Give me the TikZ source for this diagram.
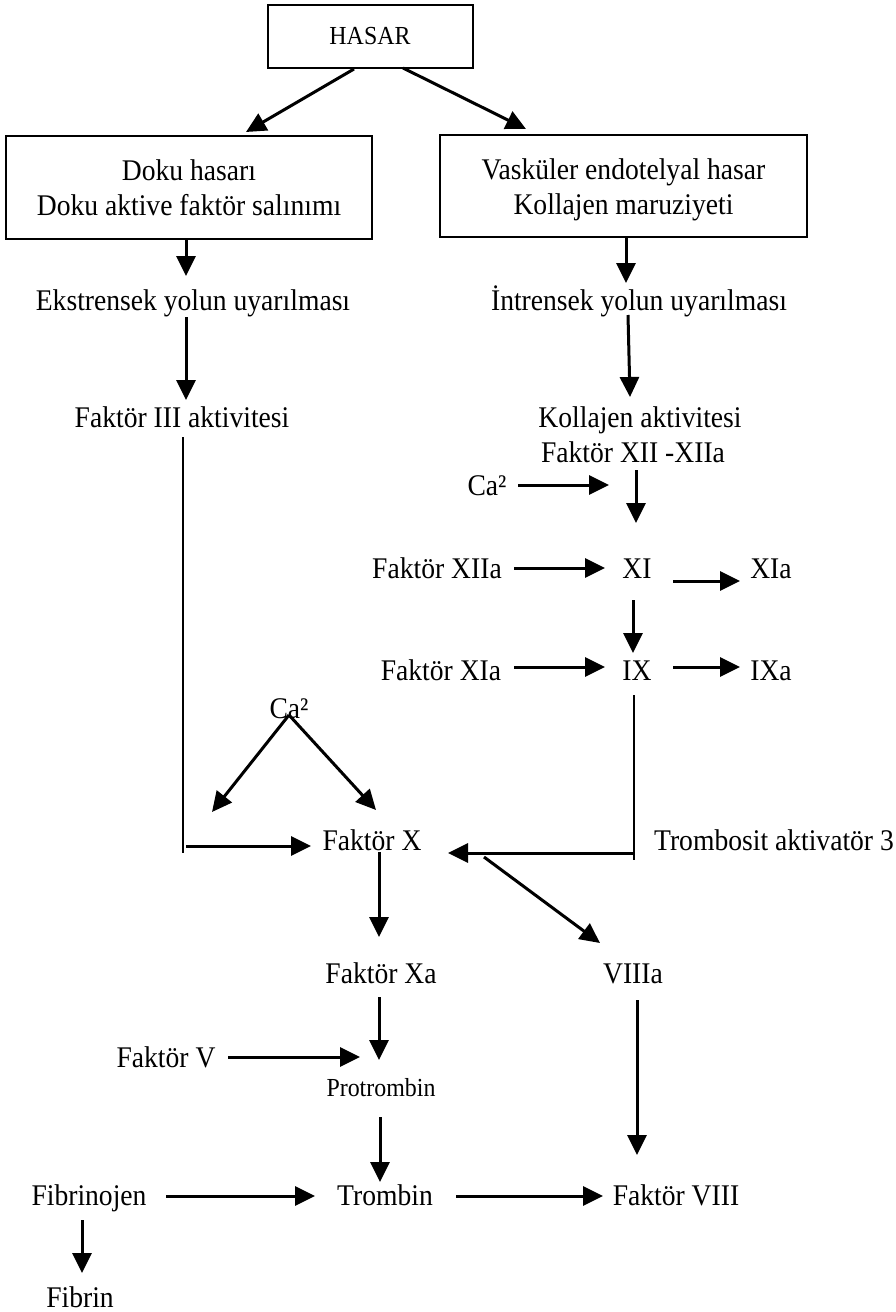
\documentclass[tikz,border=0pt]{standalone}
\usepackage{fontspec}
\setmainfont[FakeStretch=0.92]{Liberation Serif}
\usetikzlibrary{arrows.meta,calc}
\begin{document}
\begin{tikzpicture}[x=1pt,y=-1pt,
  lbl/.style={font=\fontsize{30}{35}\selectfont, inner sep=0pt, text height=20pt, text depth=0pt},
  box/.style={draw, line width=2pt, inner sep=0pt, font=\fontsize{30}{35}\selectfont, align=center},
  arr/.style={line width=3pt, -{Triangle[length=20pt,width=19pt]}},
  thinline/.style={line width=1.5pt}]
\useasboundingbox[fill=white] (0,0) rectangle (896,1312);

% boxes
\node[box, minimum width=205pt, minimum height=63pt, font=\fontsize{26}{30}\selectfont] (hasar) at (370,36.5) {HASAR};
\node[box, minimum width=366pt, minimum height=103pt] (lbox) at (189,187.5)
  {\rule{0pt}{28pt}Doku hasarı\\Doku aktive faktör salınımı\rule[-7pt]{0pt}{7pt}};
\node[box, minimum width=367pt, minimum height=102pt] (rbox) at (623.5,186)
  {\rule{0pt}{28pt}Vasküler endotelyal hasar\\Kollajen maruziyeti\rule[-7pt]{0pt}{7pt}};

% labels
\node[lbl] (ekstr) at (193,300) {Ekstrensek yolun uyarılması};
\node[lbl] (intr) at (639,300) {İntrensek yolun uyarılması};
\node[lbl] (f3) at (182,417) {Faktör III aktivitesi};
\node[lbl] (kollA) at (640,417) {Kollajen aktivitesi};
\node[lbl] (f12) at (633,452) {Faktör XII -XIIa};
\node[lbl] (ca1) at (487,485) {Ca²};
\node[lbl] (f12a) at (437,568) {Faktör XIIa};
\node[lbl] (xi) at (637,568) {XI};
\node[lbl] (xia) at (771,568) {XIa};
\node[lbl] (f11a) at (441,670) {Faktör XIa};
\node[lbl] (ix) at (637,670) {IX};
\node[lbl] (ixa) at (771,670) {IXa};
\node[lbl] (ca2) at (289,708) {Ca²};
\node[lbl] (fx) at (372,840) {Faktör X};
\node[lbl] (tromb3) at (774,840) {Trombosit aktivatör 3};
\node[lbl] (fxa) at (381,973) {Faktör Xa};
\node[lbl] (viiia) at (633,973) {VIIIa};
\node[lbl] (fv) at (166,1057) {Faktör V};
\node[lbl, font=\fontsize{26}{30}\selectfont, text height=17pt] (protr) at (381,1088) {Protrombin};
\node[lbl] (trombin) at (385,1195) {Trombin};
\node[lbl] (fibrinojen) at (89,1195) {Fibrinojen};
\node[lbl] (f8) at (676,1195) {Faktör VIII};
\node[lbl] (fibrin) at (80,1297) {Fibrin};

% free ends / corners
\coordinate (lcorner) at ($(fx)+(-189,13)$);
\coordinate (rcorner) at ($(tromb3)+(-140,20)$);
\coordinate (ca1end) at ($(f12)+(-24,33)$);
\coordinate (fvend) at ($(protr)+(-21,-31)$);

% arrows, top part
\draw[arr] ($(hasar)+(-16,32.5)$) -- ($(lbox)+(57,-55.5)$);
\draw[arr] ($(hasar)+(33,31.5)$) -- ($(rbox)+(-97.5,-57)$);
\draw[arr] ($(lbox)+(-3,51.5)$) -- ($(ekstr)+(-7,-24)$);
\draw[arr] ($(ekstr)+(-7,17)$) -- ($(f3)+(4,-17)$);
\draw[arr] ($(rbox)+(2.5,51)$) -- ($(intr)+(-13,-17)$);
\draw[arr] ($(intr)+(-11,15)$) -- ($(kollA)+(-10,-20)$);

% intrinsic cascade
\draw[arr] ($(ca1)+(31,0)$) -- (ca1end);
\draw[arr] ($(f12)+(3,18)$) -- ($(xi)+(-1,-45)$);
\draw[arr] ($(f12a)+(77,0)$) -- ($(xi)+(-32,0)$);
\draw[arr] ($(xi)+(36,13)$) -- ($(xia)+(-31,13)$);
\draw[arr] ($(xi)+(-4,32)$) -- ($(ix)+(-4,-17)$);
\draw[arr] ($(f11a)+(73,-3)$) -- ($(ix)+(-32,-3)$);
\draw[arr] ($(ix)+(36,-3)$) -- ($(ixa)+(-31,-3)$);

% connectors to Faktor X
\draw[thinline] ($(f3)+(1,20)$) -- (lcorner);
\draw[arr] ($(fx)+(-186,6)$) -- ($(fx)+(-61,6)$);
\draw[arr] ($(ca2)+(0,7)$) -- ($(fx)+(-160,-28)$);
\draw[arr] ($(ca2)+(0,7)$) -- ($(fx)+(4,-30)$);
\draw[thinline] ($(ix)+(-3,25)$) -- (rcorner);
\draw[arr] ($(tromb3)+(-140,13)$) -- ($(fx)+(76,13)$);

% lower part
\draw[arr] ($(fx)+(112,17)$) -- ($(viiia)+(-33,-30)$);
\draw[arr] ($(fx)+(7,12)$) -- ($(fxa)+(-2,-36)$);
\draw[arr] ($(fxa)+(-2,24)$) -- ($(protr)+(-2,-28)$);
\draw[arr] ($(fv)+(62,0)$) -- (fvend);
\draw[arr] ($(protr)+(-1,29)$) -- ($(trombin)+(-5,-13)$);
\draw[arr] ($(fibrinojen)+(77,1)$) -- ($(trombin)+(-70,1)$);
\draw[arr] ($(trombin)+(71,1)$) -- ($(f8)+(-73,1)$);
\draw[arr] ($(viiia)+(4,27)$) -- ($(f8)+(-39,-40)$);
\draw[arr] ($(fibrinojen)+(-7,25)$) -- ($(fibrin)+(2,-24)$);
\end{tikzpicture}
\end{document}
